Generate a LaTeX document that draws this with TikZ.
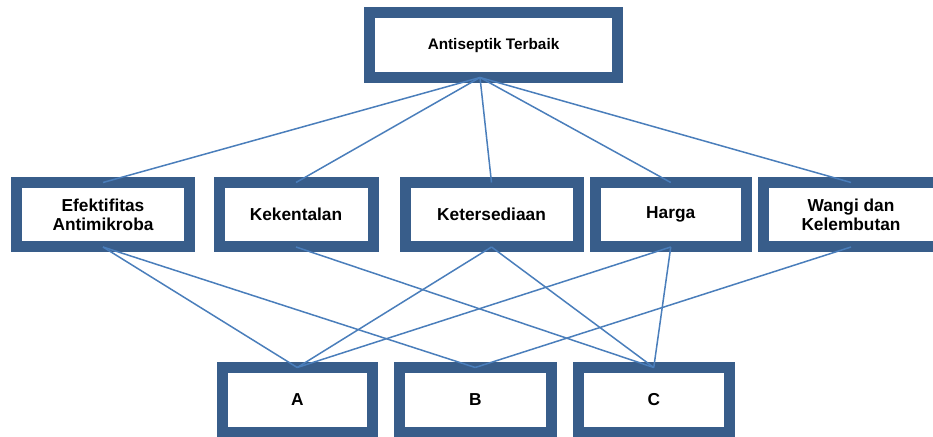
\documentclass[tikz,border=0pt]{standalone}
\usepackage{fontspec}
\setmainfont{Liberation Sans}
\definecolor{rahmenblau}{HTML}{385D8A}
\definecolor{linienblau}{HTML}{4A7EBB}
\tikzset{
  kasten/.style={draw=rahmenblau, line width=11pt, fill=white, outer sep=0pt,
    inner sep=0pt, align=center, font=\fontsize{17.3}{19.5}\selectfont\bfseries,
    minimum height=64.5pt},
  linie/.style={draw=linienblau, line width=1.5pt}
}
\begin{document}
\begin{tikzpicture}[x=1pt,y=1pt]
  \useasboundingbox (0,0) rectangle (933,436);

  % Ziel oben
  \node[kasten, minimum width=247.5pt, font=\fontsize{15.3}{18}\selectfont\bfseries]
    (ziel) at (493.5,390.75) {Antiseptik Terbaik};
  \coordinate (mitte) at (480,358.5);

  % Kriterien
  \node[kasten, minimum width=173pt] (k1) at (103,221.25) {Efektifitas\\Antimikroba};
  \node[kasten, minimum width=154pt] (k2) at (296,221.25) {Kekentalan};
  \node[kasten, minimum width=173pt] (k3) at (491.5,221.25) {Ketersediaan};
  \node[kasten, minimum width=151.5pt] (k4) at (670.75,221.25) {Harga};
  \node[kasten, minimum width=175pt] (k5) at (851,221.25) {Wangi dan\\Kelembutan};

  % Alternativen
  \node[kasten, minimum width=150.5pt] (a) at (297.25,36.25) {A};
  \node[kasten, minimum width=151.5pt] (b) at (475.25,36.25) {B};
  \node[kasten, minimum width=151.5pt] (c) at (653.75,36.25) {C};

  % Verbindungen Ziel - Kriterien
  \draw[linie] (mitte) -- (k1.north);
  \draw[linie] (mitte) -- (k2.north);
  \draw[linie] (mitte) -- (k3.north);
  \draw[linie] (mitte) -- (k4.north);
  \draw[linie] (mitte) -- (k5.north);

  % Verbindungen Kriterien - Alternativen
  \draw[linie] (k1.south) -- (a.north);
  \draw[linie] (k1.south) -- (b.north);
  \draw[linie] (k2.south) -- (c.north);
  \draw[linie] (k3.south) -- (a.north);
  \draw[linie] (k3.south) -- (c.north);
  \draw[linie] (k4.south) -- (a.north);
  \draw[linie] (k4.south) -- (c.north);
  \draw[linie] (k5.south) -- (b.north);
\end{tikzpicture}
\end{document}
